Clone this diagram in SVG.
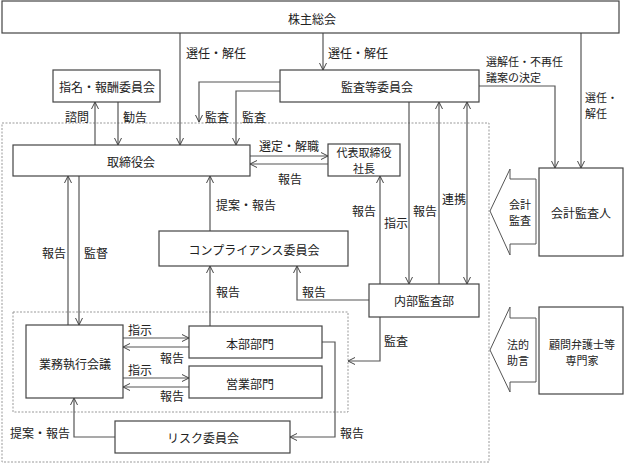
<svg xmlns="http://www.w3.org/2000/svg" width="624" height="464" viewBox="0 0 624 464">
<defs>
<marker id="ah" viewBox="0 0 8 8" refX="7.5" refY="4" markerWidth="8" markerHeight="8" markerUnits="userSpaceOnUse" orient="auto-start-reverse">
<path d="M0.5,0.5 L7.5,4 L0.5,7.5" fill="none" stroke="#444" stroke-width="1"/>
</marker>
<style>
.box{fill:#fff;stroke:#444;stroke-width:1.2}
.dash{fill:none;stroke:#999;stroke-width:1;stroke-dasharray:2,1.5}
.ln{fill:none;stroke:#555;stroke-width:1.2}
.a{marker-end:url(#ah)}
.b{marker-start:url(#ah);marker-end:url(#ah)}
text{font-family:"Noto Sans CJK JP","Noto Sans",sans-serif;font-size:12px;fill:#222;dominant-baseline:central}
.c{text-anchor:middle}
.s{font-size:11px}
.blk{fill:#fff;stroke:#555;stroke-width:1}
</style>
</defs>
<rect class="dash" x="2" y="123" width="487" height="339"/>
<rect class="dash" x="13" y="312" width="335" height="100"/>
<g id="connectors">
<path class="ln a" d="M180,33 V145"/>
<path class="ln a" d="M323,33 V70"/>
<path class="ln a" d="M581,33 V168"/>
<path class="ln a" d="M479,86 H555 V168"/>
<path class="ln a" d="M280,82 H199 V122"/>
<path class="ln a" d="M280,91 H236 V145"/>
<path class="ln a" d="M95,145 V102"/>
<path class="ln a" d="M118,102 V145"/>
<path class="ln a" d="M250,156 H328"/>
<path class="ln a" d="M328,164 H250"/>
<path class="ln a" d="M210,231 V176"/>
<path class="ln a" d="M68,325 V176"/>
<path class="ln a" d="M79,176 V325"/>
<path class="ln a" d="M210,326 V266"/>
<path class="ln a" d="M369,300 H297 V266"/>
<path class="ln a" d="M380,284 V176"/>
<path class="ln a" d="M409,102 V284"/>
<path class="ln a" d="M439,284 V102"/>
<path class="ln b" d="M467,102 V284"/>
<path class="ln a" d="M123,338 H189"/>
<path class="ln a" d="M189,347 H123"/>
<path class="ln a" d="M123,378 H189"/>
<path class="ln a" d="M189,387 H123"/>
<path class="ln a" d="M115,437 H74 V398"/>
<path class="ln a" d="M322,342 H335 V437 H290"/>
<path class="ln a" d="M380,317 V361 H348"/>
</g>
<g id="n-kabunushi"><rect class="box" x="2" y="1" width="617" height="32"/><text class="c" x="312" y="18">株主総会</text></g>
<g id="n-shimei"><rect class="box" x="53" y="70" width="107" height="32"/><text class="c" x="107" y="86">指名・報酬委員会</text></g>
<g id="n-kansa"><rect class="box" x="280" y="70" width="199" height="32"/><text class="c" x="377" y="86">監査等委員会</text></g>
<g id="n-torishimari"><rect class="box" x="13" y="145" width="237" height="31"/><text class="c" x="131" y="161">取締役会</text></g>
<g id="n-daihyo"><rect class="box" x="328" y="144" width="72" height="32"/><text class="c s" x="364" y="152">代表取締役<tspan x="364" dy="16">社長</tspan></text></g>
<g id="n-compliance"><rect class="box" x="159" y="231" width="189" height="35"/><text class="c" x="254" y="249">コンプライアンス委員会</text></g>
<g id="n-naibu"><rect class="box" x="369" y="284" width="110" height="33"/><text class="c" x="424" y="300">内部監査部</text></g>
<g id="n-kaikei"><rect class="box" x="539" y="168" width="84" height="88"/><text class="c" x="581" y="212">会計監査人</text></g>
<g id="n-komon"><rect class="box" x="539" y="307" width="84" height="87"/><text class="c s" x="582" y="344">顧問弁護士等<tspan x="582" dy="16">専門家</tspan></text></g>
<g id="n-arrow-kaikei"><path class="blk" d="M536,179 H510 V169 L490,211 L510,255 V244 H536 Z"/><text class="c s" x="520" y="204">会計<tspan x="520" dy="16">監査</tspan></text></g>
<g id="n-arrow-houteki"><path class="blk" d="M536,318 H510 V307 L490,350 L510,392 V382 H536 Z"/><text class="c s" x="518" y="344">法的<tspan x="518" dy="16">助言</tspan></text></g>
<g id="n-gyomu"><rect class="box" x="26" y="325" width="97" height="73"/><text class="c" x="75" y="363">業務執行会議</text></g>
<g id="n-honbu"><rect class="box" x="189" y="326" width="133" height="32"/><text class="c" x="250" y="343">本部部門</text></g>
<g id="n-eigyo"><rect class="box" x="189" y="366" width="133" height="32"/><text class="c" x="250" y="383">営業部門</text></g>
<g id="n-risk"><rect class="box" x="115" y="421" width="175" height="32"/><text class="c" x="203" y="437">リスク委員会</text></g>
<g id="labels">
<text x="186" y="52">選任・解任</text>
<text x="328" y="52">選任・解任</text>
<text class="s" x="486" y="61">選解任・不再任<tspan x="486" dy="16">議案の決定</tspan></text>
<text class="s" x="585" y="97">選任・<tspan x="585" dy="16">解任</tspan></text>
<text x="65" y="116">諮問</text>
<text x="123" y="116">勧告</text>
<text x="205" y="116">監査</text>
<text x="242" y="116">監査</text>
<text x="259" y="145">選定・解職</text>
<text x="278" y="178">報告</text>
<text x="216" y="204">提案・報告</text>
<text x="42" y="252">報告</text>
<text x="84" y="252">監督</text>
<text x="216" y="291">報告</text>
<text x="302" y="291">報告</text>
<text x="352" y="210">報告</text>
<text x="384" y="222">指示</text>
<text x="413" y="210">報告</text>
<text x="442" y="198">連携</text>
<text x="128" y="329">指示</text>
<text x="160" y="357">報告</text>
<text x="128" y="369">指示</text>
<text x="160" y="395">報告</text>
<text x="10" y="432">提案・報告</text>
<text x="340" y="432">報告</text>
<text x="384" y="340">監査</text>
</g>
</svg>
